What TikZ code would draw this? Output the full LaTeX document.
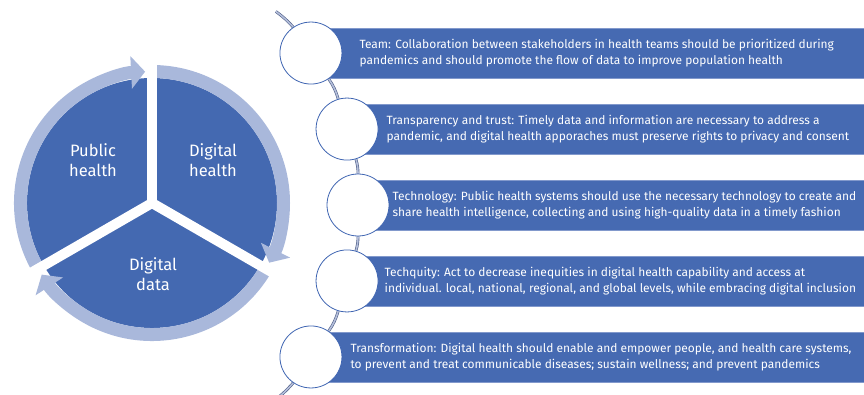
\documentclass[tikz,border=0pt]{standalone}
\usepackage{fontspec}
\setmainfont{Fira Sans}
\usetikzlibrary{arrows.meta, positioning, backgrounds, calc}

\definecolor{pieblue}{HTML}{4469B1}
\definecolor{ringblue}{HTML}{A9B8DB}
\definecolor{barblue}{HTML}{466AB2}
\definecolor{baredge}{HTML}{8299CC}
\definecolor{rimblue}{HTML}{3F65B2}
\definecolor{linkdark}{HTML}{4F5F88}
\definecolor{linklight}{HTML}{B4BEDA}

\begin{document}
\begin{tikzpicture}[
    x=1pt, y=1pt,
    ringarrow/.style={ringblue, line width=13pt, -{Triangle[width=32pt, length=14pt]}},
    gap/.style={white, line width=10pt},
    pielabel/.style={text=white, align=center, font=\fontsize{16.5}{20}\selectfont},
    stop/.style={circle, draw=rimblue, fill=white, line width=0.8pt, minimum size=62pt, inner sep=0pt},
    bar/.style={fill=barblue, draw=baredge, line width=0.6pt, minimum width=560pt, minimum height=50pt, inner sep=0pt, anchor=west},
    bartext/.style={text=white, align=left, inner sep=0pt, font=\fontsize{11.95}{15.6}\selectfont},
    link/.style={draw=linkdark, line width=0.6pt, double=linklight, double distance=1.6pt},
    node distance=8pt
]
    \useasboundingbox (0,0) rectangle (864,394);

    % Cycle
    \coordinate (P) at (152,191);
    \fill[pieblue] (P) circle (125);
    \draw[ringarrow] ($(P)+(210:131.5)$) arc[start angle=210, end angle=93, radius=131.5];
    \draw[ringarrow] ($(P)+(90:131.5)$) arc[start angle=90, end angle=-27, radius=131.5];
    \draw[ringarrow] ($(P)+(330:131.5)$) arc[start angle=330, end angle=213, radius=131.5];
    \draw[gap] (P) -- ++(90:150);
    \draw[gap] (P) -- ++(210:150);
    \draw[gap] (P) -- ++(330:150);

    \node[pielabel] (public) at (93,234) {Public\\health};
    \node[pielabel] (digihealth) at (213,234) {Digital\\health};
    \node[pielabel] (digidata) at (153,120) {Digital\\data};

    % Stops along the arc
    \coordinate (A) at (89,189);
    \coordinate (top) at ($(A)+(46:269)$);
    \coordinate (bot) at ($(A)+(-47:269)$);
    \node[stop] (team) at ($(A)+(34.4:269)$) {};
    \node[stop] (trust) at ($(A)+(16.4:269)$) {};
    \node[stop] (tech) at ($(A)+(0:269)$) {};
    \node[stop] (techquity) at ($(A)+(-16.4:269)$) {};
    \node[stop] (transform) at ($(A)+(-34.4:269)$) {};

    % Texts
    \node[bartext, right=17pt of team] (teamtext) {Team: Collaboration between stakeholders in health teams should be prioritized during\\pandemics and should promote the flow of data to improve population health};
    \node[bartext, right=of trust] (trusttext) {Transparency and trust: Timely data and information are necessary to address a\\pandemic, and digital health apporaches must preserve rights to privacy and consent};
    \node[bartext, right=3pt of tech] (techtext) {Technology: Public health systems should use the necessary technology to create and\\share health intelligence, collecting and using high-quality data in a timely fashion};
    \node[bartext, right=6pt of techquity] (techquitytext) {Techquity: Act to decrease inequities in digital health capability and access at\\individual. local, national, regional, and global levels, while embracing digital inclusion};
    \node[bartext, right=of transform] (transformtext) {Transformation: Digital health should enable and empower people, and health care systems,\\to prevent and treat communicable diseases; sustain wellness; and prevent pandemics};

    \begin{scope}[on background layer]
        \node[bar] (teambar) at (team.center) {};
        \node[bar] (trustbar) at (trust.center) {};
        \node[bar] (techbar) at (tech.center) {};
        \node[bar] (techquitybar) at (techquity.center) {};
        \node[bar] (transformbar) at (transform.center) {};

        \draw[link] (top) to[bend left=5.8] (team);
        \draw[link] (team) to[bend left=9] (trust);
        \draw[link] (trust) to[bend left=8.2] (tech);
        \draw[link] (tech) to[bend left=8.2] (techquity);
        \draw[link] (techquity) to[bend left=9] (transform);
        \draw[link] (transform) to[bend left=6.3] (bot);
    \end{scope}
\end{tikzpicture}
\end{document}
